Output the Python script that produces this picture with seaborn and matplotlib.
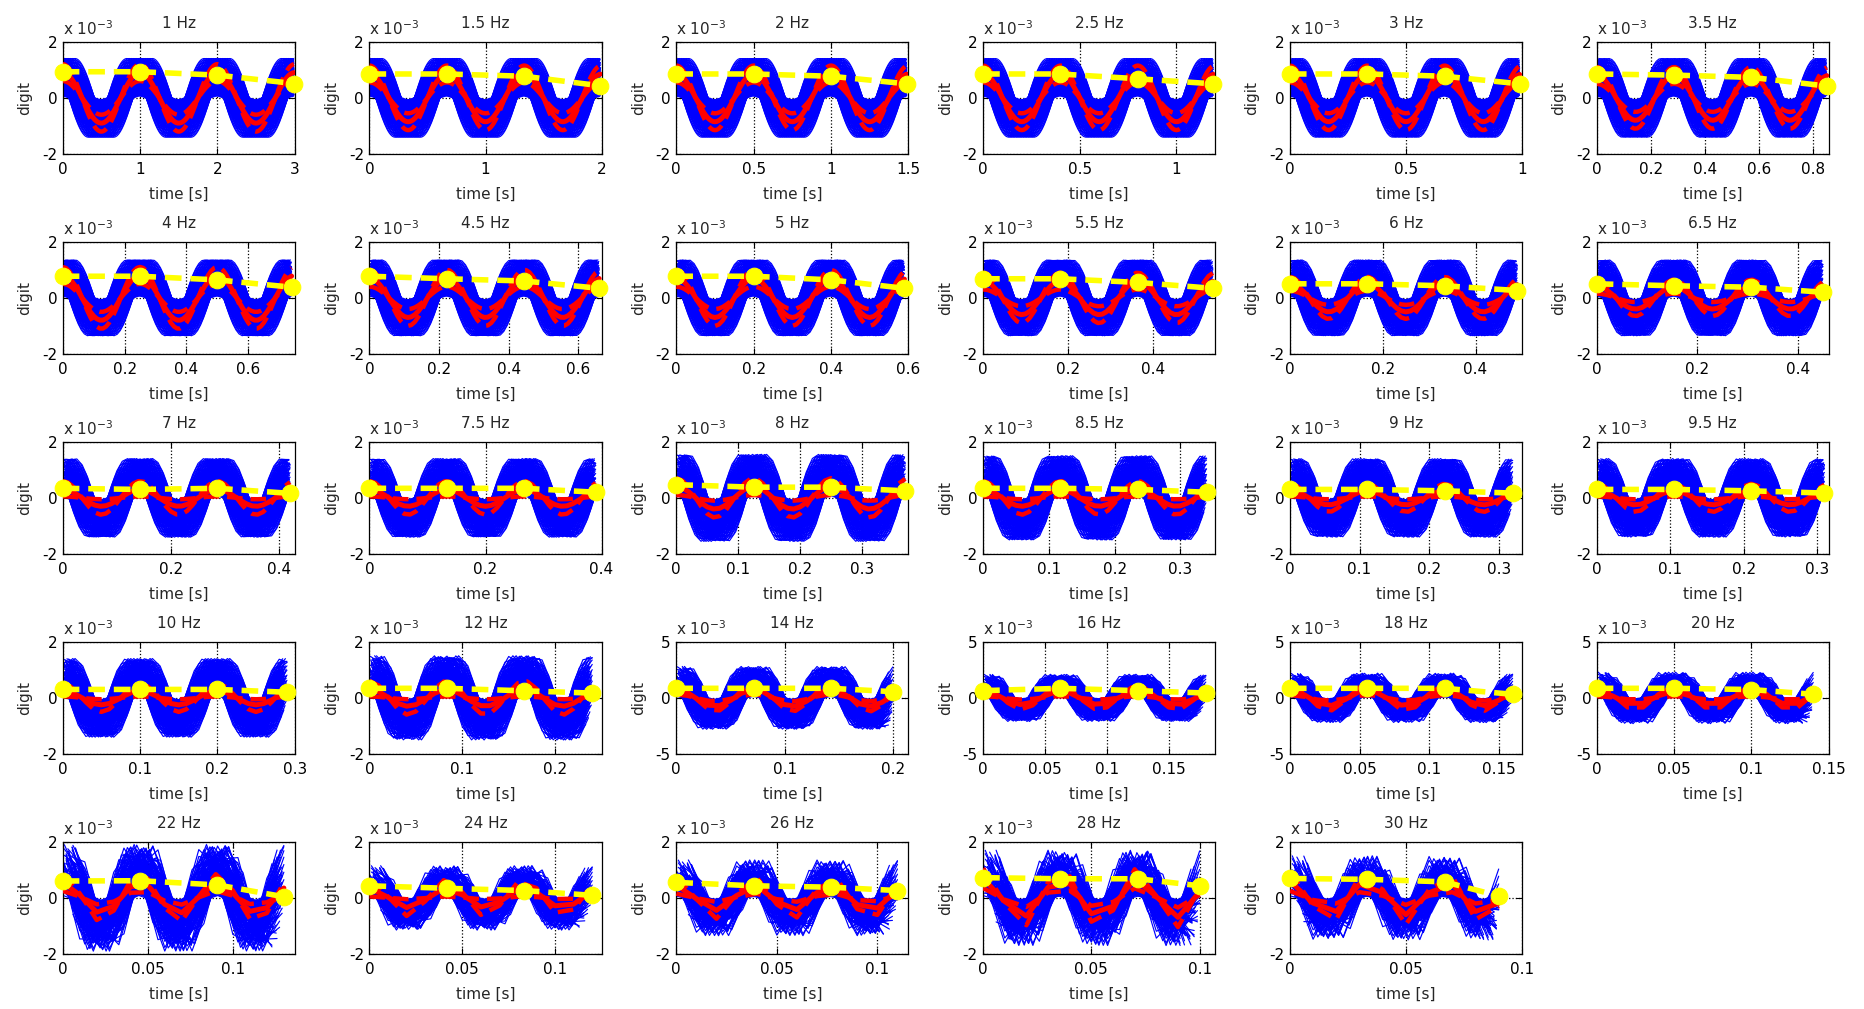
import numpy as np
import matplotlib
matplotlib.use("Agg")
import matplotlib.pyplot as plt
import seaborn as sns

# Excitation frequencies, one subplot each
freqs = [1, 1.5, 2, 2.5, 3, 3.5,
         4, 4.5, 5, 5.5, 6, 6.5,
         7, 7.5, 8, 8.5, 9, 9.5,
         10, 12, 14, 16, 18, 20,
         22, 24, 26, 28, 30]

# y-axis half range (x 1e-3)
y_limit = [2, 2, 2, 2, 2, 2,
           2, 2, 2, 2, 2, 2,
           2, 2, 2, 2, 2, 2,
           2, 2, 5, 5, 5, 5,
           2, 2, 2, 2, 2]

# x tick spacing [s]
xtick_step = [1, 1, 0.5, 0.5, 0.5, 0.2,
              0.2, 0.2, 0.2, 0.2, 0.2, 0.2,
              0.2, 0.2, 0.1, 0.1, 0.1, 0.1,
              0.1, 0.1, 0.1, 0.05, 0.05, 0.05,
              0.05, 0.05, 0.05, 0.05, 0.05]

# peak amplitude of the individual records (x 1e-3)
blue_peak = [1.4, 1.4, 1.4, 1.4, 1.4, 1.4,
             1.35, 1.35, 1.35, 1.35, 1.35, 1.35,
             1.4, 1.4, 1.55, 1.5, 1.4, 1.4,
             1.4, 1.5, 2.8, 2.1, 2.2, 2.3,
             1.9, 1.15, 1.35, 1.7, 1.5]

# amplitude of the averaged response (x 1e-3)
red_amp = [0.9, 0.85, 0.85, 0.85, 0.85, 0.8,
           0.8, 0.7, 0.7, 0.6, 0.5, 0.4,
           0.3, 0.3, 0.4, 0.3, 0.25, 0.25,
           0.25, 0.3, 0.75, 0.6, 0.7, 0.6,
           0.55, 0.35, 0.45, 0.7, 0.6]

# spread of the averaged response (x 1e-3)
red_spread = [0.3, 0.3, 0.3, 0.3, 0.3, 0.3,
              0.3, 0.3, 0.3, 0.3, 0.25, 0.25,
              0.3, 0.3, 0.3, 0.3, 0.25, 0.25,
              0.25, 0.3, 0.45, 0.45, 0.45, 0.45,
              0.3, 0.3, 0.3, 0.35, 0.35]

# detected peak levels per cycle (x 1e-3)
peak_level = [
    [0.93, 0.93, 0.81, 0.51], [0.85, 0.85, 0.77, 0.43], [0.85, 0.85, 0.77, 0.50],
    [0.85, 0.85, 0.68, 0.50], [0.85, 0.85, 0.77, 0.50], [0.85, 0.81, 0.73, 0.42],
    [0.77, 0.77, 0.64, 0.38], [0.77, 0.68, 0.60, 0.34], [0.77, 0.77, 0.64, 0.34],
    [0.68, 0.68, 0.55, 0.34], [0.50, 0.50, 0.43, 0.26], [0.50, 0.43, 0.38, 0.20],
    [0.34, 0.30, 0.34, 0.16], [0.34, 0.34, 0.34, 0.20], [0.47, 0.38, 0.38, 0.25],
    [0.34, 0.34, 0.30, 0.20], [0.30, 0.30, 0.25, 0.17], [0.30, 0.30, 0.25, 0.17],
    [0.30, 0.30, 0.30, 0.20], [0.34, 0.34, 0.25, 0.17], [0.85, 0.85, 0.85, 0.55],
    [0.64, 0.85, 0.64, 0.43], [0.85, 0.85, 0.85, 0.32], [0.85, 0.85, 0.74, 0.32],
    [0.60, 0.61, 0.46, 0.04], [0.43, 0.34, 0.26, 0.09], [0.55, 0.43, 0.38, 0.26],
    [0.72, 0.68, 0.68, 0.43], [0.69, 0.66, 0.57, 0.07],
]

# record family: relative gains, phase lags [cycles], sampling shifts [samples]
trace_gain = [0.1, 0.18, 0.26, 0.34, 0.42, 0.5, 0.58, 0.66, 0.74, 0.82, 0.9, 0.96, 1.0]
trace_lag = [-0.17, -0.14, -0.11, -0.08, -0.05, -0.02, 0.01, 0.04, 0.07, 0.1, 0.13, 0.16]
sample_shift = [0.0, 0.45, 0.8, 0.2, 0.65, 0.35, 0.9, 0.1, 0.55, 0.75, 0.3, 0.6]

fs = 100.0  # sampling rate [Hz]

sns.set_theme(style="ticks")
plt.rcParams["font.family"] = ["DejaVu Sans"]
plt.rcParams["mathtext.fontset"] = "dejavusans"
plt.rcParams["font.size"] = 11

W, H = 1865, 1009
fig = plt.figure(figsize=(W / 100, H / 100), dpi=100, facecolor="white")

ax_left0, ax_top0 = 62.7, 41.7
ax_w, ax_h = 232.0, 112.3
col_step, row_step = 306.8, 200.0

for idx, f in enumerate(freqs):
    row, col = divmod(idx, 6)
    left = ax_left0 + col * col_step
    top = ax_top0 + row * row_step
    ax = fig.add_axes([left / W, 1 - (top + ax_h) / H, ax_w / W, ax_h / H])
    ax.set_facecolor("white")

    n = int(np.floor(3 * fs / f + 0.5))
    k = np.arange(n)
    t_base = k / fs

    # individual records
    B = blue_peak[idx]
    for i, g in enumerate(trace_gain):
        for j, lag in enumerate(trace_lag):
            s = sample_shift[(i + j) % len(sample_shift)]
            tj = (k + s) / fs
            tj = tj[tj <= t_base[-1] + 1e-9]
            yj = B * g * np.cos(2 * np.pi * (f * tj - lag))
            ax.plot(tj, yj, color="#0000FF", lw=0.85, zorder=2)

    # averaged response with spread
    A = red_amp[idx]
    sp = red_spread[idx]
    wave = np.cos(2 * np.pi * f * t_base)
    sns.lineplot(x=t_base, y=A * wave, ax=ax, color="#FF0000", lw=3.6, zorder=3)
    for a in (A + sp, max(A - sp, 0.05)):
        sns.lineplot(x=t_base, y=a * wave, ax=ax, color="#FF0000", lw=3.2,
                     linestyle=(0, (3.5, 1.8)), zorder=3)

    # peak levels per cycle
    pk_t = [0.0, 1.0 / f, 2.0 / f, t_base[-1]]
    sns.lineplot(x=pk_t, y=peak_level[idx], ax=ax, color="#FFFF00", lw=4.0,
                 linestyle=(0, (3, 1.6)), marker="o", markersize=12,
                 markeredgecolor="#FFFF00", clip_on=False, zorder=4)

    xmax = 3.0 / f
    yl = y_limit[idx]
    ax.set_xlim(0, xmax)
    ax.set_ylim(-yl, yl)
    step = xtick_step[idx]
    ticks = [round(v * step, 6) for v in range(0, int(xmax / step + 1e-6) + 1)]
    ax.set_xticks(ticks)
    ax.set_xticklabels([f"{v:g}" for v in ticks])
    ax.set_yticks([-yl, 0, yl])
    ax.set_yticklabels([f"{v:g}" for v in (-yl, 0, yl)])

    ax.grid(True, linestyle=":", color="black", lw=0.9)
    ax.set_axisbelow(True)
    ax.tick_params(direction="in", length=4, width=0.8, top=True, right=True,
                   labelsize=11, colors="black")
    ax.tick_params(axis="x", pad=5.5)
    ax.tick_params(axis="y", pad=4)
    for sp_ in ax.spines.values():
        sp_.set_color("black")
        sp_.set_linewidth(0.9)

    ax.set_title(f"{f:g} Hz", fontsize=11, pad=10)
    ax.set_xlabel("time [s]", fontsize=11, labelpad=7)
    ax.set_ylabel("digit", fontsize=11, labelpad=7)
    ax.text(0.0, 1.03, r"x 10$^{-3}$", transform=ax.transAxes,
            ha="left", va="bottom", fontsize=11)

fig.savefig("out.png", dpi=100, facecolor="white")
